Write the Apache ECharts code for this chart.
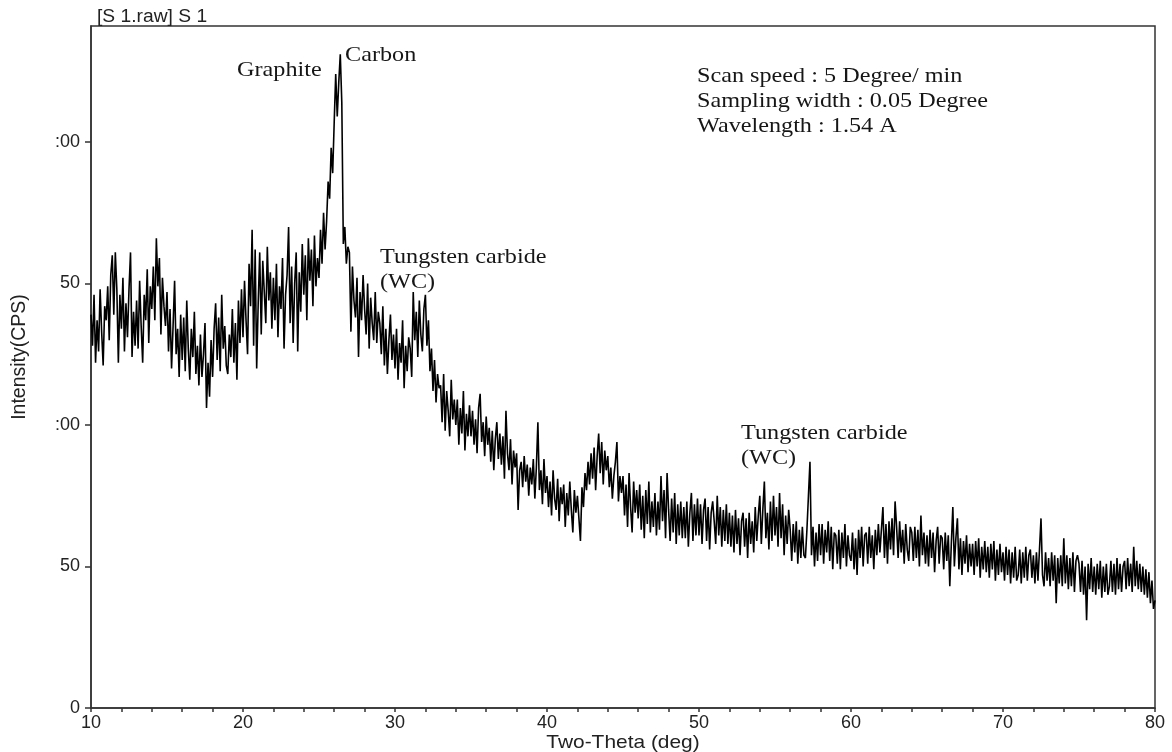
<!DOCTYPE html>
<html>
<head>
<meta charset="utf-8">
<title>XRD pattern S 1</title>
<script src="https://cdn.jsdelivr.net/npm/echarts@6/dist/echarts.min.js"></script>
<style>
  html, body { margin: 0; padding: 0; background: #ffffff; }
  #chart { width: 1172px; height: 752px; }
</style>
</head>
<body>
<div id="chart"></div>
<script>
// Scan grid: 2-theta from 10 deg in 0.1 deg steps
const THETA_START = 10;
const THETA_STEP = 0.1;

// Intensity (CPS), one row per degree
const cps10s = [
  139,128,146,122,137,126,148,133,121,142,
  137,149,130,153,160,139,161,148,122,146,
  134,152,126,143,131,148,161,124,140,128,
  144,127,151,135,122,146,137,155,129,149,
  141,156,137,166,149,159,132,152,142,135,
  147,126,141,120,135,151,125,134,117,139,
  123,138,119,144,127,116,134,124,140,118,
  128,114,132,117,125,136,106,122,110,130,
  117,134,143,123,138,119,146,127,135,121,
  118,132,124,141,122,136,116,144,129,148
];
const cps20s = [
  131,151,137,125,157,142,169,128,162,120,
  143,161,132,158,147,136,163,144,154,134,
  152,137,157,131,149,141,159,127,146,153,
  170,136,156,129,150,161,126,154,140,164,
  146,160,137,166,151,162,142,167,149,159,
  152,169,157,175,162,172,186,180,198,189,
  207,224,209,221,231,214,164,170,157,163,
  161,133,156,144,138,152,124,147,137,153,
  141,132,150,127,145,136,130,147,129,140,
  136,125,142,121,134,118,130,139,123,132
];
const cps30s = [
  120,134,116,129,122,137,113,128,119,131,
  127,117,147,130,140,124,144,132,126,141,
  146,128,137,119,127,112,123,108,118,113,
  114,101,118,98,112,105,96,116,102,109,
  100,109,93,106,97,112,91,104,96,107,
  96,105,93,102,90,106,111,94,101,89,
  103,93,99,87,98,84,95,101,88,97,
  86,96,81,105,90,84,95,79,91,85,
  90,70,84,87,78,89,80,86,75,85,
  79,88,74,85,101,77,84,72,88,76
];
const cps40s = [
  82,71,80,68,84,74,70,81,66,78,
  72,79,64,76,68,80,70,62,77,69,
  75,67,59,78,71,83,77,87,79,90,
  81,92,77,89,97,83,94,79,91,84,
  89,78,85,74,82,87,94,73,82,76,
  82,68,79,64,83,71,62,80,69,77,
  67,79,63,75,60,77,65,80,62,73,
  64,76,61,73,63,82,66,77,60,83,
  70,59,74,62,76,58,72,61,73,60,
  71,60,73,57,69,76,59,72,61,74
];
const cps50s = [
  61,72,58,70,74,59,71,56,69,73,
  66,58,75,61,71,57,70,59,72,58,
  69,57,68,55,70,58,67,54,66,69,
  57,67,53,69,58,66,55,71,59,68,
  75,58,70,80,60,69,56,73,59,75,
  61,71,57,76,60,72,54,68,58,70,
  63,52,65,55,66,51,63,53,64,54,
  53,63,75,87,54,64,50,62,52,65,
  54,65,51,63,55,66,52,64,49,62,
  61,51,63,49,62,53,65,50,61,54
];
const cps60s = [
  52,62,49,60,47,63,53,64,50,61,
  62,51,64,53,61,49,63,54,65,55,
  55,71,53,65,51,66,56,67,54,73,
  64,53,66,55,63,51,65,56,52,64,
  62,52,64,53,63,50,68,54,62,51,
  61,50,63,53,62,48,59,64,51,61,
  60,49,62,52,61,43,58,71,50,60,
  67,49,60,47,59,51,61,48,58,50,
  58,47,59,50,60,46,57,49,59,48,
  57,46,58,49,59,45,56,47,58,48
];
const cps70s = [
  55,45,57,47,56,44,55,46,57,45,
  47,56,44,55,46,57,45,54,56,46,
  54,44,55,45,56,67,47,43,55,45,
  53,43,55,45,54,37,53,44,54,43,
  60,44,54,42,53,43,55,41,52,54,
  51,41,52,40,50,31,51,42,53,41,
  50,40,51,42,52,39,50,41,51,40,
  43,52,41,51,40,53,42,51,41,50,
  52,42,53,43,51,41,57,43,52,42,
  51,41,50,40,49,39,48,37,45,35
];
const cps80 = [38];

// Axis ticks and labels
const xTickValues = [10, 12, 14, 16, 18, 20, 22, 24, 26, 28, 30, 32, 34, 36, 38, 40,
                     42, 44, 46, 48, 50, 52, 54, 56, 58, 60, 62, 64, 66, 68, 70, 72, 74, 76, 78, 80];
const xLabelValues = [10, 20, 30, 40, 50, 60, 70, 80];
const xLabelTexts = ['10', '20', '30', '40', '50', '60', '70', '80'];
const yLabelValues = [0, 50, 100, 150, 200];
const yLabelTexts = ['0', '50', ':00', '50', ':00'];

const intensity = [].concat(cps10s, cps20s, cps30s, cps40s, cps50s, cps60s, cps70s, cps80);
const scan = intensity.map((v, i) => [+(THETA_START + i * THETA_STEP).toFixed(2), v]);

const SERIF = '"Liberation Serif", "Times New Roman", serif';
const SANS = '"Liberation Sans", Arial, sans-serif';
const AXIS_COLOR = '#333333';

function serifNote(text, x, y) {
  return {
    type: 'text', x: x, y: y, scaleX: 1.1,
    style: { text: text, font: '22px ' + SERIF, fill: '#161616', textAlign: 'left', textVerticalAlign: 'middle' }
  };
}

const chart = echarts.init(document.getElementById('chart'), null, { renderer: 'canvas' });
chart.setOption({
  animation: false,
  backgroundColor: '#ffffff',
  grid: {
    left: 91, right: 17, top: 26, bottom: 44,
    show: true, borderColor: AXIS_COLOR, borderWidth: 1.5, backgroundColor: 'transparent'
  },
  xAxis: {
    type: 'value', min: 10, max: 80,
    axisLine: { show: true, onZero: false, lineStyle: { color: AXIS_COLOR, width: 1.5 } },
    axisTick: { show: true, customValues: xTickValues, length: 4, lineStyle: { color: AXIS_COLOR, width: 1.5 } },
    axisLabel: {
      customValues: xLabelValues, margin: 6,
      formatter: v => xLabelTexts[xLabelValues.indexOf(v)],
      color: '#222222', fontFamily: SANS, fontSize: 18
    },
    splitLine: { show: false }
  },
  yAxis: {
    type: 'value', min: 0, max: 241,
    axisLine: { show: true, onZero: false, lineStyle: { color: AXIS_COLOR, width: 1.5 } },
    axisTick: { show: true, customValues: yLabelValues, length: 6, lineStyle: { color: AXIS_COLOR, width: 1.5 } },
    axisLabel: {
      customValues: yLabelValues, margin: 11,
      formatter: v => yLabelTexts[yLabelValues.indexOf(v)],
      color: '#222222', fontFamily: SANS, fontSize: 18
    },
    splitLine: { show: false }
  },
  series: [{
    type: 'line',
    data: scan,
    showSymbol: false,
    lineStyle: { color: '#000000', width: 1.6 },
    clip: true
  }],
  graphic: [
    { type: 'text', x: 97, y: 17, scaleX: 1.1,
      style: { text: '[S 1.raw] S 1', font: '17.5px ' + SANS, fill: '#222222', textAlign: 'left', textVerticalAlign: 'middle' } },
    { type: 'text', x: 623, y: 743, scaleX: 1.1,
      style: { text: 'Two-Theta (deg)', font: '19px ' + SANS, fill: '#222222', textAlign: 'center', textVerticalAlign: 'middle' } },
    { type: 'text', x: 20, y: 357, rotation: Math.PI / 2,
      style: { text: 'Intensity(CPS)', font: '19.5px ' + SANS, fill: '#222222', textAlign: 'center', textVerticalAlign: 'middle' } },
    serifNote('Graphite', 237, 70),
    serifNote('Carbon', 345, 55),
    serifNote('Tungsten carbide', 380, 257),
    serifNote('(WC)', 380, 282),
    serifNote('Tungsten carbide', 741, 433),
    serifNote('(WC)', 741, 458),
    serifNote('Scan speed : 5 Degree/ min', 697, 76),
    serifNote('Sampling width : 0.05 Degree', 697, 101),
    serifNote('Wavelength : 1.54 A', 697, 126)
  ]
});
</script>
</body>
</html>
